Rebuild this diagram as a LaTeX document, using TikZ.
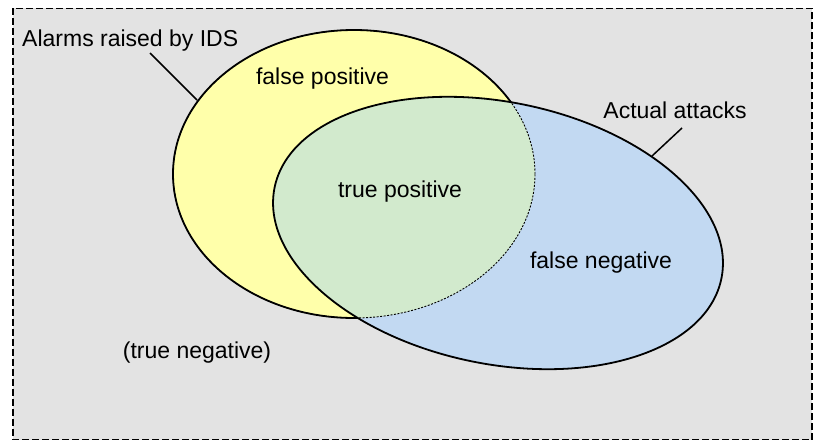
\documentclass[tikz,border=0pt]{standalone}
\usepackage{fontspec}
\setmainfont{Liberation Sans}
\definecolor{bggray}{RGB}{227,227,227}
\definecolor{ylw}{RGB}{255,255,170}
\definecolor{blu}{RGB}{194,217,242}
\definecolor{ovl}{RGB}{210,234,205}
\begin{document}
\begin{tikzpicture}[x=1pt,y=-1pt,
  lbl/.style={font=\fontsize{23}{27}\selectfont, inner sep=0pt},
  outl/.style={line width=1.8pt},
  lead/.style={line width=1.5pt},
  blueell/.style={rotate around={-11.5:(498,233)}}]
\useasboundingbox (0,0) rectangle (813,441);
\draw[fill=bggray, line width=1.2pt, dash pattern=on 7pt off 3pt] (13,8.5) rectangle (812,439.5);
% yellow ellipse (alarms)
\path[fill=ylw] (354,174) ellipse [x radius=181pt, y radius=144pt];
\draw[outl] (354,174) ellipse [x radius=181pt, y radius=144pt];
% blue ellipse (attacks)
\fill[blu, blueell] (498,233) ellipse [x radius=228pt, y radius=131pt];
\begin{scope}
  \clip (354,174) ellipse [x radius=181pt, y radius=144pt];
  \fill[ovl, blueell] (498,233) ellipse [x radius=228pt, y radius=131pt];
\end{scope}
\draw[line width=0.9pt, dash pattern=on 2pt off 1.5pt] (354,174) ellipse [x radius=181pt, y radius=144pt];
\draw[outl, blueell] (498,233) ellipse [x radius=228pt, y radius=131pt];
% labels
\node[lbl, anchor=base west] (alarms) at (22,47) {Alarms raised by IDS};
\node[lbl, anchor=base] (fp) at (322.5,85) {false positive};
\node[lbl, anchor=base] (tp) at (400,197) {true positive};
\node[lbl, anchor=base] (attacks) at (675,119) {Actual attacks};
\node[lbl, anchor=base] (fn) at (601,268) {false negative};
\node[lbl, anchor=base] (tn) at (197,358) {(true negative)};
% leaders
\coordinate (alarmsEnd) at (150,53);
\coordinate (alarmsTip) at (197,100);
\coordinate (attacksEnd) at (682,128);
\coordinate (attacksTip) at (652,156);
\draw[lead] (alarmsEnd) -- (alarmsTip);
\draw[lead] (attacksEnd) -- (attacksTip);
\end{tikzpicture}
\end{document}
